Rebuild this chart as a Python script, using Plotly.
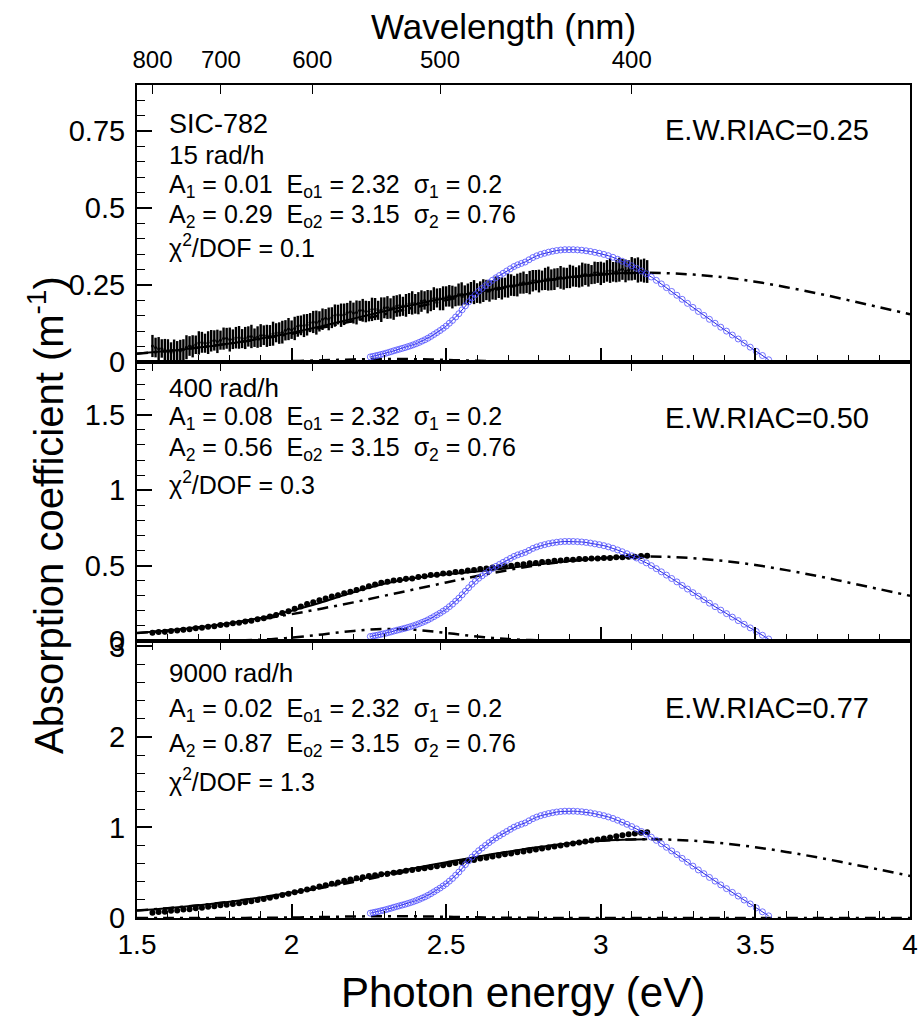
import plotly.graph_objects as go

FONT = "Liberation Sans, Arial, Helvetica, sans-serif"

# ---------------- data ----------------
# 15 rad/h panel: dense sampling (every 0.01 eV)
energy_15 = [1.55, 1.56, 1.57, 1.58, 1.59, 1.60, 1.61, 1.62, 1.63, 1.64,
             1.65, 1.66, 1.67, 1.68, 1.69, 1.70, 1.71, 1.72, 1.73, 1.74,
             1.75, 1.76, 1.77, 1.78, 1.79, 1.80, 1.81, 1.82, 1.83, 1.84,
             1.85, 1.86, 1.87, 1.88, 1.89, 1.90, 1.91, 1.92, 1.93, 1.94,
             1.95, 1.96, 1.97, 1.98, 1.99, 2.00, 2.01, 2.02, 2.03, 2.04,
             2.05, 2.06, 2.07, 2.08, 2.09, 2.10, 2.11, 2.12, 2.13, 2.14,
             2.15, 2.16, 2.17, 2.18, 2.19, 2.20, 2.21, 2.22, 2.23, 2.24,
             2.25, 2.26, 2.27, 2.28, 2.29, 2.30, 2.31, 2.32, 2.33, 2.34,
             2.35, 2.36, 2.37, 2.38, 2.39, 2.40, 2.41, 2.42, 2.43, 2.44,
             2.45, 2.46, 2.47, 2.48, 2.49, 2.50, 2.51, 2.52, 2.53, 2.54,
             2.55, 2.56, 2.57, 2.58, 2.59, 2.60, 2.61, 2.62, 2.63, 2.64,
             2.65, 2.66, 2.67, 2.68, 2.69, 2.70, 2.71, 2.72, 2.73, 2.74,
             2.75, 2.76, 2.77, 2.78, 2.79, 2.80, 2.81, 2.82, 2.83, 2.84,
             2.85, 2.86, 2.87, 2.88, 2.89, 2.90, 2.91, 2.92, 2.93, 2.94,
             2.95, 2.96, 2.97, 2.98, 2.99, 3.00, 3.01, 3.02, 3.03, 3.04,
             3.05, 3.06, 3.07, 3.08, 3.09, 3.10, 3.11, 3.12, 3.13, 3.14, 3.15]
absorb_15 = [0.052, 0.047, 0.043, 0.044, 0.040, 0.034, 0.031, 0.036, 0.037, 0.036,
             0.040, 0.048, 0.052, 0.051, 0.056, 0.062, 0.064, 0.061, 0.063, 0.069,
             0.070, 0.067, 0.071, 0.076, 0.077, 0.073, 0.074, 0.079, 0.080, 0.076,
             0.078, 0.083, 0.083, 0.079, 0.081, 0.086, 0.087, 0.085, 0.086, 0.092,
             0.095, 0.094, 0.097, 0.103, 0.107, 0.105, 0.109, 0.116, 0.119, 0.118,
             0.121, 0.128, 0.130, 0.128, 0.132, 0.139, 0.142, 0.140, 0.144, 0.151,
             0.154, 0.152, 0.155, 0.161, 0.163, 0.159, 0.161, 0.167, 0.168, 0.164,
             0.165, 0.171, 0.172, 0.168, 0.170, 0.176, 0.177, 0.174, 0.176, 0.182,
             0.184, 0.181, 0.184, 0.190, 0.192, 0.189, 0.191, 0.198, 0.200, 0.196,
             0.199, 0.206, 0.208, 0.204, 0.207, 0.213, 0.215, 0.211, 0.213, 0.219,
             0.221, 0.218, 0.220, 0.226, 0.227, 0.224, 0.226, 0.232, 0.234, 0.231,
             0.234, 0.240, 0.242, 0.239, 0.242, 0.248, 0.250, 0.247, 0.250, 0.256,
             0.258, 0.255, 0.258, 0.264, 0.266, 0.263, 0.265, 0.270, 0.271, 0.267,
             0.269, 0.274, 0.275, 0.271, 0.273, 0.278, 0.279, 0.276, 0.278, 0.284,
             0.285, 0.282, 0.284, 0.290, 0.291, 0.288, 0.290, 0.296, 0.297, 0.293,
             0.295, 0.300, 0.301, 0.296, 0.298, 0.303, 0.302, 0.299, 0.297, 0.297, 0.294]
err_15 = [0.036, 0.032, 0.038, 0.030, 0.035, 0.040, 0.033, 0.037, 0.031, 0.036,
          0.034, 0.039, 0.032, 0.036, 0.030, 0.038, 0.034, 0.031, 0.037, 0.035,
          0.033, 0.038, 0.031, 0.036, 0.034, 0.039, 0.032, 0.035, 0.037, 0.031,
          0.036, 0.033, 0.038, 0.030, 0.035, 0.037, 0.032, 0.036, 0.034, 0.039,
          0.031, 0.035, 0.037, 0.033, 0.036, 0.030, 0.038, 0.034, 0.032, 0.037,
          0.035, 0.031, 0.036, 0.039, 0.033, 0.035, 0.030, 0.037, 0.034, 0.036,
          0.032, 0.038, 0.035, 0.031, 0.036, 0.034, 0.039, 0.032, 0.037, 0.035,
          0.033, 0.038, 0.036, 0.031, 0.040, 0.034, 0.037, 0.033, 0.039, 0.035,
          0.036, 0.031, 0.037, 0.034, 0.038, 0.032, 0.036, 0.035, 0.030, 0.038,
          0.034, 0.037, 0.031, 0.036, 0.039, 0.033, 0.035, 0.037, 0.032, 0.036,
          0.038, 0.031, 0.035, 0.034, 0.039, 0.032, 0.036, 0.037, 0.033, 0.035,
          0.031, 0.038, 0.034, 0.036, 0.032, 0.039, 0.035, 0.033, 0.037, 0.034,
          0.036, 0.031, 0.038, 0.035, 0.033, 0.037, 0.032, 0.036, 0.039, 0.034,
          0.035, 0.031, 0.037, 0.036, 0.033, 0.038, 0.034, 0.032, 0.036, 0.039,
          0.035, 0.037, 0.031, 0.036, 0.034, 0.038, 0.033, 0.035, 0.040, 0.032,
          0.036, 0.039, 0.034, 0.037, 0.033, 0.038, 0.035, 0.041, 0.036, 0.039, 0.037]

# 400 and 9000 rad/h panels (every 0.02 eV)
energy = [1.55, 1.57, 1.59, 1.61, 1.63, 1.65, 1.67, 1.69, 1.71, 1.73,
          1.75, 1.77, 1.79, 1.81, 1.83, 1.85, 1.87, 1.89, 1.91, 1.93,
          1.95, 1.97, 1.99, 2.01, 2.03, 2.05, 2.07, 2.09, 2.11, 2.13,
          2.15, 2.17, 2.19, 2.21, 2.23, 2.25, 2.27, 2.29, 2.31, 2.33,
          2.35, 2.37, 2.39, 2.41, 2.43, 2.45, 2.47, 2.49, 2.51, 2.53,
          2.55, 2.57, 2.59, 2.61, 2.63, 2.65, 2.67, 2.69, 2.71, 2.73,
          2.75, 2.77, 2.79, 2.81, 2.83, 2.85, 2.87, 2.89, 2.91, 2.93,
          2.95, 2.97, 2.99, 3.01, 3.03, 3.05, 3.07, 3.09, 3.11, 3.13, 3.15]

absorb_400 = [0.055, 0.059, 0.061, 0.067, 0.069, 0.075, 0.078, 0.085, 0.088, 0.095,
              0.098, 0.106, 0.110, 0.118, 0.121, 0.129, 0.134, 0.144, 0.151, 0.162,
              0.172, 0.186, 0.198, 0.214, 0.228, 0.245, 0.257, 0.271, 0.282, 0.295,
              0.304, 0.317, 0.326, 0.339, 0.349, 0.363, 0.374, 0.387, 0.393, 0.401,
              0.405, 0.412, 0.415, 0.425, 0.429, 0.437, 0.440, 0.447, 0.450, 0.457,
              0.460, 0.467, 0.470, 0.477, 0.480, 0.487, 0.489, 0.496, 0.499, 0.506,
              0.509, 0.516, 0.518, 0.524, 0.526, 0.532, 0.533, 0.538, 0.539, 0.544,
              0.544, 0.547, 0.547, 0.551, 0.551, 0.555, 0.555, 0.559, 0.559, 0.563, 0.565]
err_400 = [0.016, 0.014, 0.017, 0.013, 0.015, 0.017, 0.014, 0.016, 0.013, 0.015,
           0.017, 0.014, 0.016, 0.015, 0.013, 0.017, 0.014, 0.016, 0.015, 0.014,
           0.016, 0.013, 0.015, 0.017, 0.014, 0.016, 0.013, 0.015, 0.017, 0.014,
           0.016, 0.015, 0.013, 0.017, 0.014, 0.016, 0.015, 0.014, 0.016, 0.013,
           0.015, 0.017, 0.014, 0.016, 0.013, 0.015, 0.017, 0.014, 0.016, 0.015,
           0.013, 0.017, 0.014, 0.016, 0.015, 0.014, 0.016, 0.013, 0.015, 0.017,
           0.014, 0.016, 0.013, 0.015, 0.017, 0.014, 0.016, 0.015, 0.013, 0.017,
           0.014, 0.016, 0.015, 0.014, 0.016, 0.013, 0.015, 0.017, 0.014, 0.016, 0.015]

absorb_9000 = [0.058, 0.065, 0.070, 0.079, 0.084, 0.093, 0.098, 0.108, 0.114, 0.124,
               0.130, 0.140, 0.146, 0.156, 0.163, 0.175, 0.184, 0.198, 0.209, 0.225,
               0.237, 0.254, 0.267, 0.284, 0.297, 0.315, 0.329, 0.347, 0.361, 0.379,
               0.393, 0.411, 0.424, 0.440, 0.450, 0.463, 0.471, 0.482, 0.489, 0.501,
               0.509, 0.521, 0.529, 0.541, 0.549, 0.562, 0.571, 0.584, 0.594, 0.608,
               0.618, 0.632, 0.642, 0.656, 0.666, 0.680, 0.690, 0.703, 0.712, 0.725,
               0.734, 0.747, 0.756, 0.769, 0.778, 0.791, 0.800, 0.813, 0.822, 0.835,
               0.844, 0.857, 0.866, 0.879, 0.889, 0.903, 0.913, 0.926, 0.934, 0.943, 0.946]
err_9000 = [0.022, 0.019, 0.024, 0.020, 0.023, 0.019, 0.021, 0.024, 0.020, 0.022,
            0.019, 0.023, 0.021, 0.020, 0.024, 0.019, 0.022, 0.021, 0.023, 0.020,
            0.022, 0.019, 0.024, 0.021, 0.020, 0.023, 0.019, 0.022, 0.021, 0.024,
            0.020, 0.022, 0.019, 0.023, 0.021, 0.020, 0.024, 0.019, 0.022, 0.021,
            0.023, 0.020, 0.022, 0.019, 0.024, 0.021, 0.020, 0.023, 0.019, 0.022,
            0.021, 0.024, 0.020, 0.022, 0.019, 0.023, 0.021, 0.020, 0.024, 0.019,
            0.022, 0.021, 0.023, 0.020, 0.022, 0.019, 0.024, 0.021, 0.020, 0.023,
            0.019, 0.022, 0.021, 0.024, 0.020, 0.022, 0.019, 0.023, 0.021, 0.020, 0.022]

# total fit (solid line)
fit_energy = [1.50, 1.55, 1.60, 1.65, 1.70, 1.75, 1.80, 1.85, 1.90, 1.95,
              2.00, 2.05, 2.10, 2.15, 2.20, 2.25, 2.30, 2.35, 2.40, 2.45,
              2.50, 2.55, 2.60, 2.65, 2.70, 2.75, 2.80, 2.85, 2.90, 2.95,
              3.00, 3.05, 3.10, 3.15]
fit_15 = [0.028, 0.032, 0.036, 0.041, 0.047, 0.053, 0.060, 0.068, 0.076, 0.085,
          0.095, 0.106, 0.117, 0.129, 0.141, 0.153, 0.165, 0.177, 0.187, 0.198,
          0.208, 0.218, 0.227, 0.236, 0.245, 0.253, 0.261, 0.269, 0.275, 0.280,
          0.284, 0.288, 0.289, 0.290]
fit_400 = [0.053, 0.061, 0.070, 0.080, 0.091, 0.104, 0.118, 0.135, 0.153, 0.175,
           0.200, 0.229, 0.259, 0.291, 0.323, 0.353, 0.379, 0.401, 0.418, 0.431,
           0.442, 0.451, 0.461, 0.472, 0.483, 0.496, 0.508, 0.520, 0.531, 0.541,
           0.549, 0.555, 0.559, 0.560]
fit_9000 = [0.082, 0.095, 0.109, 0.124, 0.141, 0.160, 0.180, 0.203, 0.227, 0.254,
            0.283, 0.313, 0.346, 0.380, 0.415, 0.450, 0.485, 0.520, 0.553, 0.585,
            0.617, 0.647, 0.677, 0.706, 0.733, 0.760, 0.784, 0.805, 0.825, 0.840,
            0.853, 0.863, 0.868, 0.870]

# second gaussian component (dash-dot, extends to 4 eV)
g2_energy = [1.5, 1.6, 1.7, 1.8, 1.9, 2.0, 2.1, 2.2, 2.3, 2.4, 2.5, 2.6, 2.7,
             2.8, 2.9, 3.0, 3.1, 3.2, 3.3, 3.4, 3.5, 3.6, 3.7, 3.8, 3.9, 4.0]
g2_15 = [0.027, 0.036, 0.047, 0.060, 0.075, 0.092, 0.112, 0.133, 0.155, 0.178, 0.201, 0.223, 0.243,
         0.261, 0.275, 0.284, 0.289, 0.289, 0.284, 0.275, 0.261, 0.243, 0.223, 0.201, 0.178, 0.155]
g2_400 = [0.053, 0.070, 0.091, 0.116, 0.145, 0.178, 0.216, 0.256, 0.300, 0.344, 0.388, 0.431, 0.470,
          0.504, 0.530, 0.549, 0.559, 0.559, 0.549, 0.530, 0.504, 0.470, 0.431, 0.388, 0.344, 0.300]
g2_9000 = [0.082, 0.109, 0.141, 0.180, 0.225, 0.277, 0.335, 0.398, 0.465, 0.535, 0.604, 0.670, 0.730,
           0.782, 0.824, 0.853, 0.868, 0.868, 0.853, 0.824, 0.782, 0.730, 0.670, 0.604, 0.535, 0.465]

# first gaussian component (dash-dot, near the baseline)
g1_energy = [1.5, 1.6, 1.7, 1.75, 1.8, 1.85, 1.9, 1.95, 2.0, 2.05, 2.1, 2.15, 2.2, 2.25, 2.3,
             2.35, 2.4, 2.45, 2.5, 2.55, 2.6, 2.65, 2.7, 2.75, 2.8, 2.85, 2.9, 3.0, 3.2, 4.0]
g1_15 = [0.0, 0.0, 0.0001, 0.0002, 0.0003, 0.0006, 0.0011, 0.0018, 0.0028, 0.0040, 0.0055, 0.0070,
         0.0084, 0.0094, 0.0100, 0.0099, 0.0092, 0.0081, 0.0067, 0.0052, 0.0038, 0.0026, 0.0016,
         0.0010, 0.0006, 0.0003, 0.0002, 0.0, 0.0, 0.0]
g1_400 = [0.0, 0.0001, 0.0006, 0.0014, 0.0027, 0.0051, 0.0088, 0.0144, 0.0222, 0.0322, 0.0437, 0.0558,
          0.0668, 0.0753, 0.0796, 0.0791, 0.0738, 0.0648, 0.0534, 0.0413, 0.0300, 0.0205, 0.0131,
          0.0079, 0.0045, 0.0024, 0.0012, 0.0002, 0.0, 0.0]
g1_9000 = [0.0, 0.0, 0.0002, 0.0003, 0.0007, 0.0013, 0.0022, 0.0036, 0.0056, 0.0080, 0.0109, 0.0139,
           0.0167, 0.0188, 0.0199, 0.0198, 0.0185, 0.0162, 0.0133, 0.0103, 0.0075, 0.0051, 0.0033,
           0.0020, 0.0011, 0.0006, 0.0003, 0.0001, 0.0, 0.0]

# blue reference spectrum (open circles), sampled every 2 nm from 550 to 350 nm
lamp_wavelength = list(range(550, 349, -2))
lamp_shape = [0.045, 0.05, 0.055, 0.06, 0.066, 0.072, 0.078, 0.085, 0.092, 0.10,
              0.107, 0.114, 0.121, 0.128, 0.136, 0.144, 0.153, 0.163, 0.174, 0.186,
              0.198, 0.212, 0.228, 0.245, 0.262, 0.28, 0.30, 0.32, 0.345, 0.37,
              0.40, 0.43, 0.465, 0.50, 0.535, 0.57, 0.60, 0.63, 0.655, 0.68,
              0.705, 0.728, 0.75, 0.77, 0.79, 0.81, 0.83, 0.85, 0.865, 0.878,
              0.89, 0.91, 0.93, 0.945, 0.958, 0.968, 0.978, 0.986, 0.992, 0.997,
              1.0, 1.0, 1.0, 0.998, 0.995, 0.99, 0.984, 0.976, 0.968, 0.958,
              0.946, 0.932, 0.915, 0.897, 0.877, 0.856, 0.834, 0.81, 0.785, 0.757,
              0.727, 0.695, 0.662, 0.628, 0.594, 0.558, 0.522, 0.486, 0.45, 0.415,
              0.38, 0.345, 0.31, 0.275, 0.24, 0.205, 0.168, 0.132, 0.095, 0.058,
              0.02]
lamp_peak = [0.365, 0.66, 1.18]

wl_ticks = [800, 700, 600, 500, 400]
x_ticks = [1.5, 2, 2.5, 3, 3.5, 4]
x_ticktext = ["1.5", "2", "2.5", "3", "3.5", "4"]
x_minor = [1.6, 1.7, 1.8, 1.9, 2.1, 2.2, 2.3, 2.4, 2.6, 2.7, 2.8, 2.9,
           3.1, 3.2, 3.3, 3.4, 3.6, 3.7, 3.8, 3.9]
y_ticks = [[0, 0.25, 0.5, 0.75], [0, 0.5, 1, 1.5], [0, 1, 2, 3]]
y_ticktext = [["0", "0.25", "0.5", "0.75"], ["0", "0.5", "1", "1.5"], ["0", "1", "2", "3"]]
y_ranges = [[0, 0.9], [0, 1.85], [0, 3.06]]
y_minor = [0.05, 0.1, 0.2]

NB = "\u00a0\u00a0"
panel_labels = [
    ["SIC-782", "15 rad/h",
     "A<sub>1</sub> = 0.01" + NB + "E<sub>o1</sub> = 2.32" + NB + "\u03c3<sub>1</sub> = 0.2",
     "A<sub>2</sub> = 0.29" + NB + "E<sub>o2</sub> = 3.15" + NB + "\u03c3<sub>2</sub> = 0.76",
     "\u03c7<sup>2</sup>/DOF = 0.1"],
    ["400 rad/h",
     "A<sub>1</sub> = 0.08" + NB + "E<sub>o1</sub> = 2.32" + NB + "\u03c3<sub>1</sub> = 0.2",
     "A<sub>2</sub> = 0.56" + NB + "E<sub>o2</sub> = 3.15" + NB + "\u03c3<sub>2</sub> = 0.76",
     "\u03c7<sup>2</sup>/DOF = 0.3"],
    ["9000 rad/h",
     "A<sub>1</sub> = 0.02" + NB + "E<sub>o1</sub> = 2.32" + NB + "\u03c3<sub>1</sub> = 0.2",
     "A<sub>2</sub> = 0.87" + NB + "E<sub>o2</sub> = 3.15" + NB + "\u03c3<sub>2</sub> = 0.76",
     "\u03c7<sup>2</sup>/DOF = 1.3"],
]
riac_labels = ["E.W.RIAC=0.25", "E.W.RIAC=0.50", "E.W.RIAC=0.77"]

# ---------------- layout geometry (pixels) ----------------
W, H = 924, 1017
ML, MR, MT, MB = 137, 6, 85, 99
PW, PH = W - ML - MR, H - MT - MB


def px_x(px):
    return (px - ML) / PW


def px_y(py):
    return (H - MB - py) / PH


domains = [[px_y(362), 1.0], [px_y(641), px_y(362)], [0.0, px_y(641)]]

label_rows = [[124, 155, 186, 216, 246], [388, 418, 449, 483], [673, 710, 745, 780]]
label_sizes = [[27, 26, 25, 25, 25], [26, 25, 25, 25], [26, 25, 25, 25]]
riac_rows = [130, 418, 708]

fig = go.Figure()

data_sets = [
    (energy_15, absorb_15, err_15, fit_15, g2_15, g1_15, 3, 2.4),
    (energy, absorb_400, err_400, fit_400, g2_400, g1_400, 6, 2),
    (energy, absorb_9000, err_9000, fit_9000, g2_9000, g1_9000, 6, 2),
]

lamp_energy = [1240.0 / w for w in lamp_wavelength]
DASHDOT = "11px,6px,3px,6px"

for i, (xs, vals, errs, fit, g2, g1, msize, ethick) in enumerate(data_sets):
    xa = "x" if i == 0 else f"x{i + 1}"
    ya = "y" if i == 0 else f"y{i + 1}"
    fig.add_trace(go.Scatter(x=g1_energy, y=g1, mode="lines", xaxis=xa, yaxis=ya,
                             line=dict(color="black", width=2.5, dash=DASHDOT, shape="spline"),
                             showlegend=False, hoverinfo="skip"))
    fig.add_trace(go.Scatter(x=g2_energy, y=g2, mode="lines", xaxis=xa, yaxis=ya,
                             line=dict(color="black", width=2.5, dash=DASHDOT, shape="spline"),
                             showlegend=False, hoverinfo="skip"))
    fig.add_trace(go.Scatter(x=fit_energy, y=fit, mode="lines", xaxis=xa, yaxis=ya,
                             line=dict(color="black", width=2, shape="spline"),
                             showlegend=False, hoverinfo="skip"))
    fig.add_trace(go.Scatter(x=xs, y=vals, mode="markers", xaxis=xa, yaxis=ya,
                             marker=dict(color="black", size=msize),
                             error_y=dict(type="data", array=errs, color="black",
                                          thickness=ethick, width=0),
                             showlegend=False))
    peak = lamp_peak[i]
    fig.add_trace(go.Scatter(x=lamp_energy, y=[s * peak for s in lamp_shape],
                             mode="lines+markers", xaxis=xa, yaxis=ya,
                             line=dict(color="rgb(40,40,220)", width=1),
                             marker=dict(symbol="circle-open", size=6,
                                         color="rgba(80,80,255,0.8)",
                                         line=dict(width=1)),
                             showlegend=False))
    fig.add_trace(go.Scatter(x=[None], y=[None], xaxis=f"x{i + 4}", yaxis=ya,
                             showlegend=False, hoverinfo="skip"))

layout = dict(
    width=W, height=H,
    margin=dict(l=ML, r=MR, t=MT, b=MB, pad=0),
    paper_bgcolor="white", plot_bgcolor="white",
    font=dict(family=FONT, color="black", size=20),
    showlegend=False,
)

for i in range(3):
    xkey = "xaxis" if i == 0 else f"xaxis{i + 1}"
    ykey = "yaxis" if i == 0 else f"yaxis{i + 1}"
    ya = "y" if i == 0 else f"y{i + 1}"
    layout[xkey] = dict(
        range=[1.5, 4], anchor=ya, domain=[0, 1],
        showline=True, linecolor="black", linewidth=2, mirror=True,
        ticks="inside", ticklen=14, tickwidth=1.5, tickcolor="black",
        tickvals=x_ticks, ticktext=x_ticktext,
        showticklabels=(i == 2), tickfont=dict(size=28),
        minor=dict(tickvals=x_minor, ticks="inside", ticklen=7, tickwidth=1,
                   tickcolor="black"),
        showgrid=False, zeroline=False,
    )
    layout[ykey] = dict(
        range=y_ranges[i], domain=domains[i], anchor=("x" if i == 0 else f"x{i + 1}"),
        showline=True, linecolor="black", linewidth=2, mirror=True,
        ticks="inside", ticklen=15, tickwidth=1.5, tickcolor="black",
        tickvals=y_ticks[i], ticktext=y_ticktext[i], tickfont=dict(size=29),
        ticklabelstandoff=4,
        minor=dict(dtick=y_minor[i], ticks="inside", ticklen=8, tickwidth=1,
                   tickcolor="black"),
        showgrid=False, zeroline=False,
    )
    layout[f"xaxis{i + 4}"] = dict(
        range=[1.5, 4], overlaying=("x" if i == 0 else f"x{i + 1}"), anchor=ya,
        side="top", showline=False, showgrid=False, zeroline=False,
        ticks="inside", ticklen=9, tickwidth=1, tickcolor="black",
        tickvals=[1240.0 / w for w in wl_ticks], ticktext=[str(w) for w in wl_ticks],
        showticklabels=(i == 0), tickfont=dict(size=24), ticklabelstandoff=11,
    )

annotations = []
for i in range(3):
    for txt, row, sz in zip(panel_labels[i], label_rows[i], label_sizes[i]):
        annotations.append(dict(text=txt, xref="paper", yref="paper",
                                x=px_x(167), y=px_y(row), xanchor="left", yanchor="middle",
                                showarrow=False, font=dict(size=sz)))
    annotations.append(dict(text=riac_labels[i], xref="paper", yref="paper",
                            x=px_x(668), y=px_y(riac_rows[i]), xanchor="left",
                            yanchor="middle", showarrow=False, font=dict(size=29)))

annotations.append(dict(text="Absorption coefficient (m<sup>-1</sup>)", xref="paper",
                        yref="paper", x=px_x(45), y=px_y(515), xanchor="center",
                        yanchor="middle", textangle=-90, showarrow=False,
                        font=dict(size=40)))
annotations.append(dict(text="Photon energy (eV)", xref="paper", yref="paper",
                        x=px_x(527), y=px_y(992), xanchor="center", yanchor="middle",
                        showarrow=False, font=dict(size=42)))
annotations.append(dict(text="Wavelength (nm)", xref="paper", yref="paper",
                        x=px_x(507), y=px_y(27), xanchor="center", yanchor="middle",
                        showarrow=False, font=dict(size=35)))
layout["annotations"] = annotations

fig.update_layout(**layout)
fig.write_html("out.html")
